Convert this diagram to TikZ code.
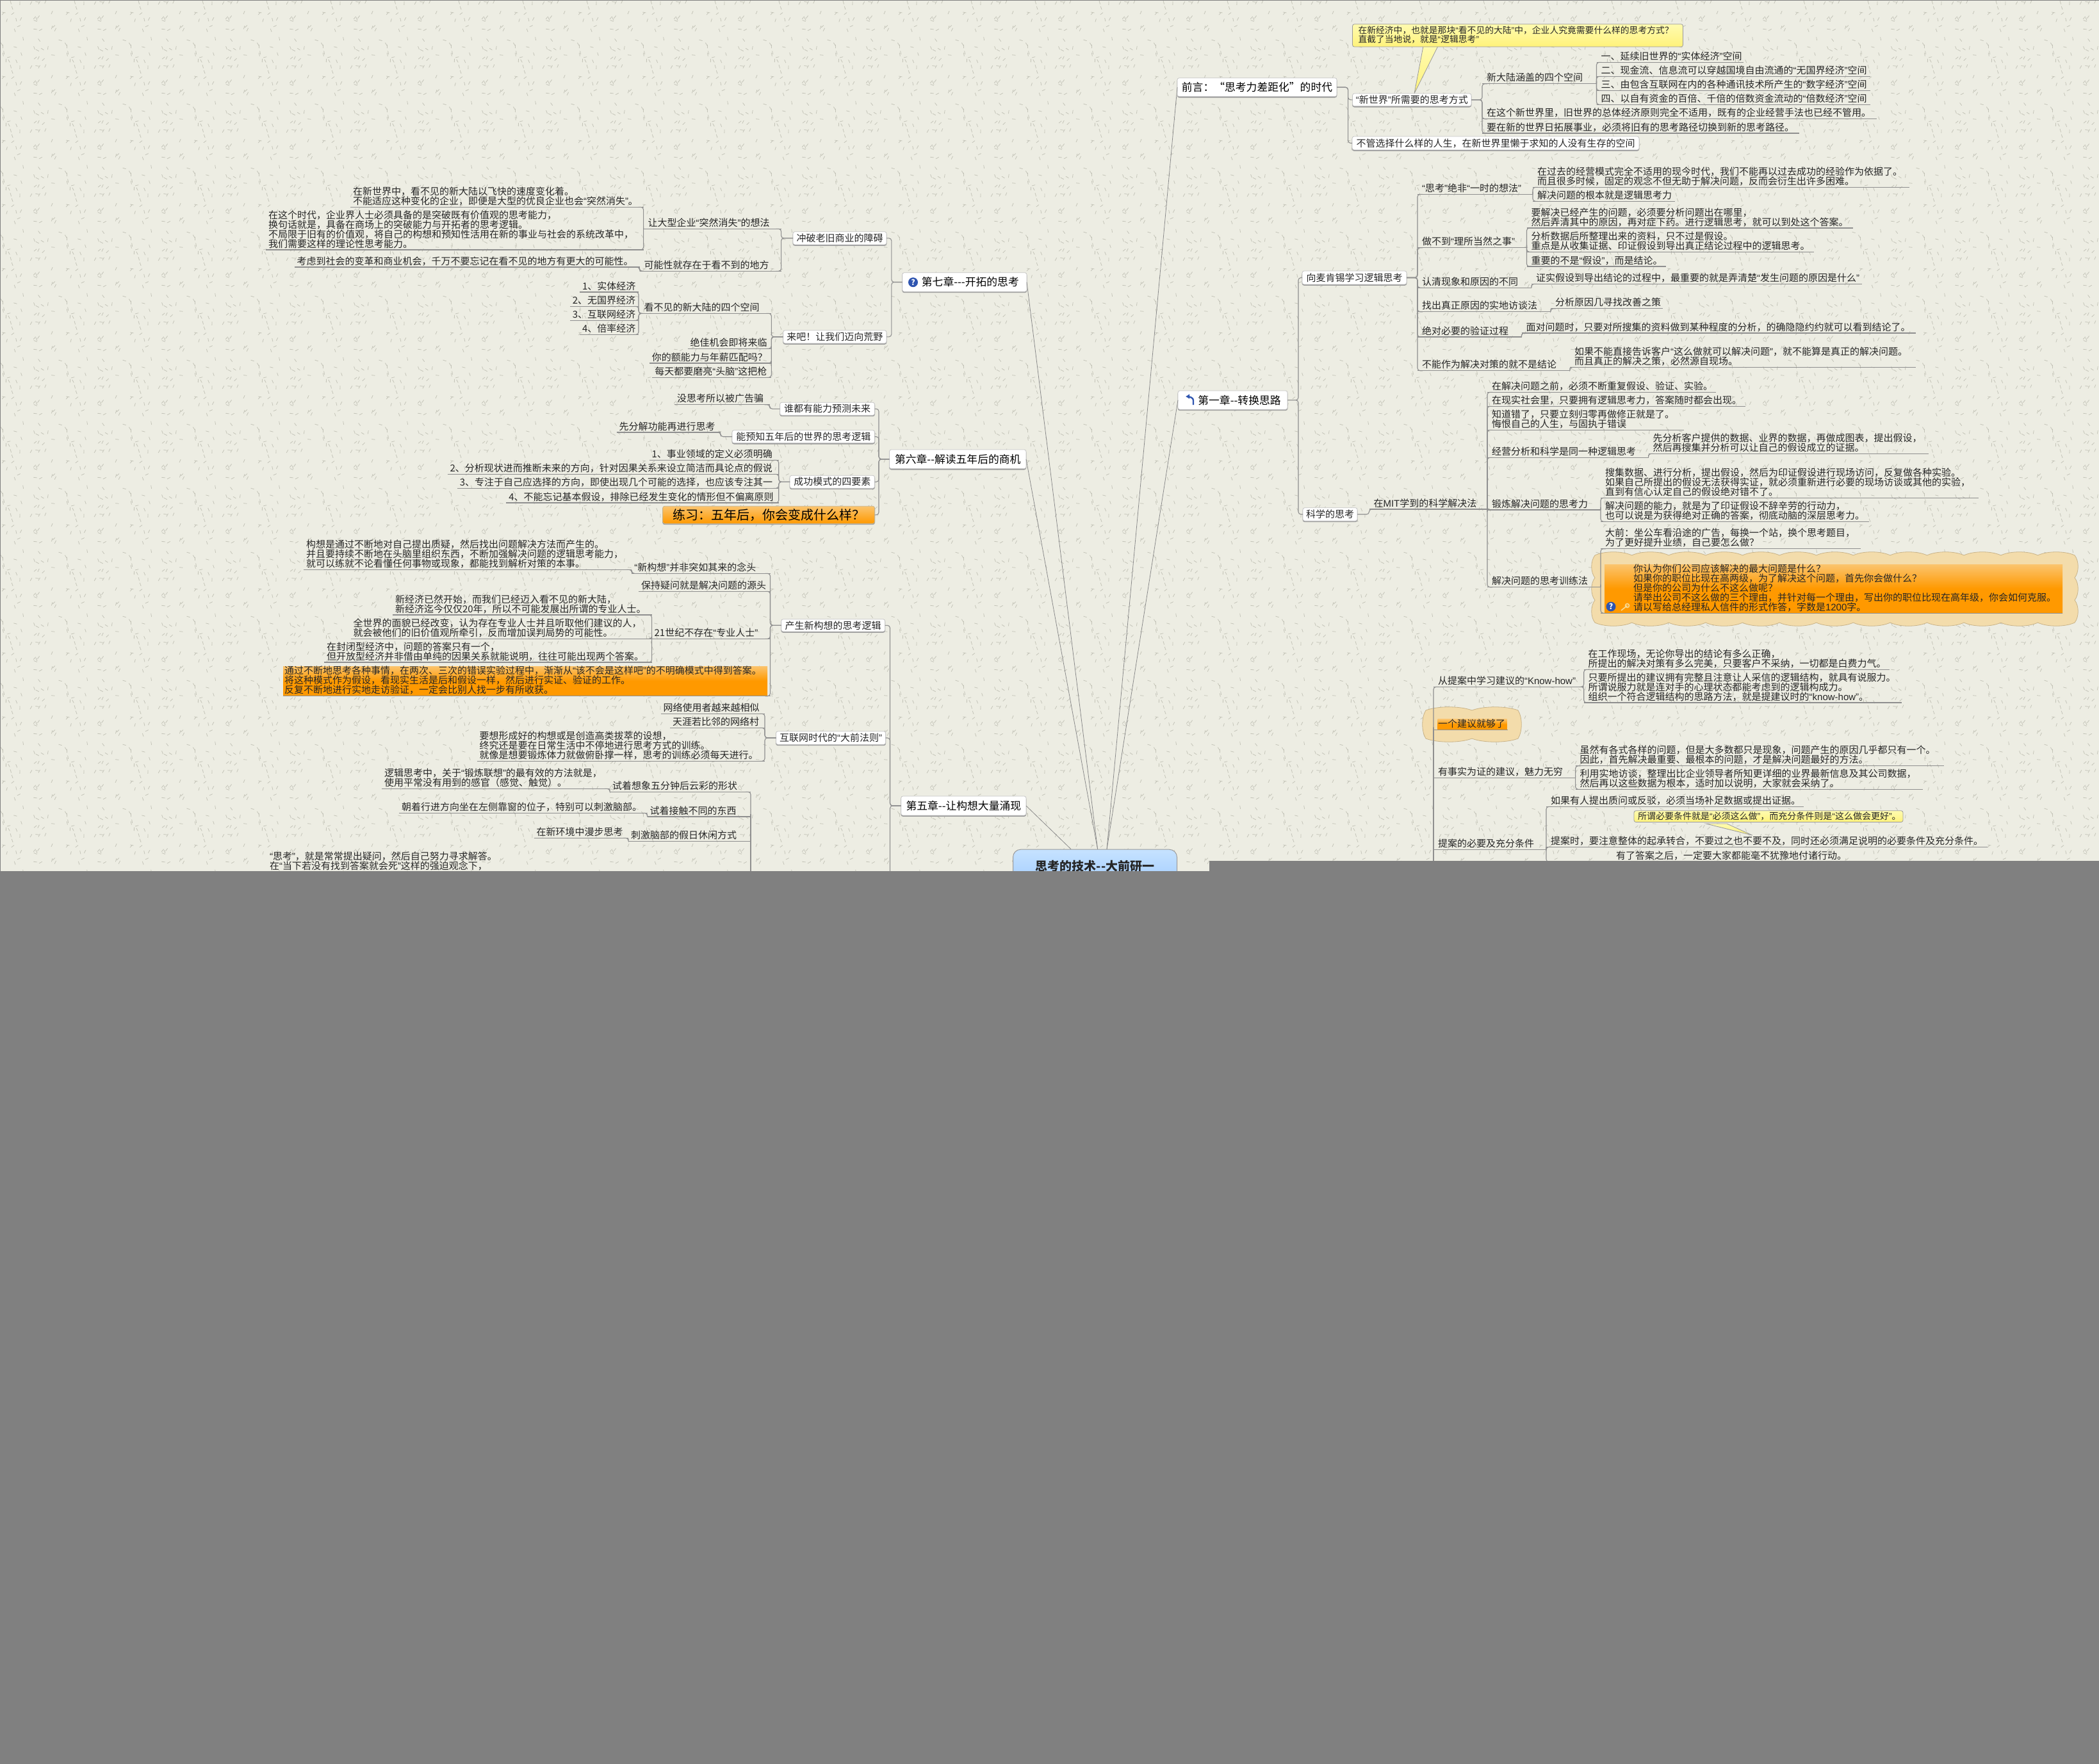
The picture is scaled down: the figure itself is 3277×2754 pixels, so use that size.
\documentclass[tikz,border=0pt]{standalone}
\usepackage{fontspec}
\setmainfont{Noto Sans CJK SC}
\newfontfamily\qfont{Liberation Sans}
\usetikzlibrary{patterns,arrows.meta,calc}
\lineskiplimit=-20pt
\normallineskiplimit=-20pt
\catcode`“=\active
\catcode`”=\active
\def“{{\qfont\char"201C }}
\def”{{\qfont\char"201D }}
\newcommand{\lat}[1]{\mbox{\qfont #1}}
\def\plaincolon{:}
\ExplSyntaxOn
\tl_new:N \l_fwpunct_tl
\NewDocumentCommand{\TX}{m}{
  \tl_set:Nn \l_fwpunct_tl {#1}
  \tl_replace_all:Nnn \l_fwpunct_tl {,} {\char"FF0C\relax}
  \exp_args:NNo \tl_replace_all:Nnn \l_fwpunct_tl {\plaincolon} {\char"FF1A\relax}
  \tl_replace_all:Nnn \l_fwpunct_tl {?} {\char"FF1F\relax}
  \tl_replace_all:Nnn \l_fwpunct_tl {!} {\char"FF01\relax}
  \tl_replace_all:Nnn \l_fwpunct_tl {(} {\char"FF08\relax}
  \tl_replace_all:Nnn \l_fwpunct_tl {)} {\char"FF09\relax}
  \tl_use:N \l_fwpunct_tl
}
\ExplSyntaxOff
\definecolor{bgc}{HTML}{EDEDE3}
\definecolor{tickc}{HTML}{C4C4B8}
\definecolor{linec}{HTML}{8F8F8F}
\definecolor{mainc}{HTML}{8A8A8A}
\definecolor{edgec}{HTML}{C4C4C4}
\definecolor{shadc}{HTML}{9A9A9A}
\definecolor{greyc}{HTML}{808080}
\definecolor{ortop}{HTML}{FBC46E}
\definecolor{orbot}{HTML}{FF9900}
\definecolor{yeltop}{HTML}{FFFBB0}
\definecolor{yelbot}{HTML}{FFF27A}
\definecolor{cloudf}{HTML}{F3DCAB}
\definecolor{cloude}{HTML}{C9B388}
\definecolor{iconb}{HTML}{2F55B0}
\definecolor{keyc}{HTML}{F7DA95}
\definecolor{ctop}{HTML}{C6E2FF}
\definecolor{cbot}{HTML}{A4CEFF}
\definecolor{inkc}{HTML}{262626}
\pgfdeclarepatternformonly{grain}{\pgfqpoint{0pt}{0pt}}{\pgfqpoint{100pt}{100pt}}{\pgfqpoint{100pt}{100pt}}{%
  \pgfsetlinewidth{0.8pt}\pgfsetroundcap
  \pgfmathsetseed{11}%
  \foreach \i in {1,...,46}{%
    \pgfmathsetmacro\xa{rnd*90+5}\pgfmathsetmacro\ya{rnd*90+5}%
    \pgfmathsetmacro\an{rnd*360}\pgfmathsetmacro\xb{\xa+5*cos(\an)}\pgfmathsetmacro\yb{\ya+5*sin(\an)}%
    \pgfpathmoveto{\pgfpoint{\xa pt}{\ya pt}}\pgfpathlineto{\pgfpoint{\xb pt}{\yb pt}}\pgfusepath{stroke}%
  }%
}
\newcommand{\mystrut}{\rule{0pt}{12pt}\rule[-3pt]{0pt}{3pt}}
\tikzset{
  txt/.style={font=\fontsize{15}{15}\selectfont,text=inkc},
  leaf/.style={txt,anchor=south west,inner ysep=1pt,align=left,outer sep=0pt,
    execute at begin node=\mystrut,execute at end node=\mystrut},
  ul/.style={draw=linec,line width=1.2pt},
  conn/.style={draw=linec,line width=1.1pt,rounded corners=4pt},
  mainline/.style={draw=mainc,line width=0.8pt},
  boxn/.style={txt,anchor=north west,inner sep=0pt,outer sep=0pt,align=center,draw=edgec,line width=0.8pt,fill=white,
    rounded corners=3pt,preaction={fill=shadc,draw=shadc,transform canvas={yshift=-1.4pt}}},
  chap/.style={boxn,font=\fontsize{16.8}{17}\selectfont,text=black},
  orbox/.style={boxn,top color=ortop,bottom color=orbot,draw=cloude,font=\fontsize{20}{20}\selectfont,text=black},
  orfill/.style={top color=ortop,bottom color=orbot,middle color=orbot},
  yel/.style={top color=yeltop,bottom color=yelbot,draw=shadc,line width=0.8pt},
  calloutn/.style={yel,rounded corners=3pt,anchor=north west,align=left,outer sep=0pt,text=inkc,
    execute at begin node=\mystrut,execute at end node=\mystrut},
  cloudn/.style={fill=cloudf,draw=cloude,line width=0.8pt},
  ctrbox/.style={anchor=north west,inner sep=0pt,align=center,top color=ctop,bottom color=cbot,draw=shadc,line width=1pt,
    rounded corners=12pt,font=\fontsize{19}{19}\selectfont\bfseries,text=black!85},
  qicon/.style={circle,fill=iconb,text=white,inner sep=0pt,minimum size=15pt,font=\fontsize{12}{12}\selectfont\bfseries},
}
% #1 style, #2 pad, #3 name, #4 x1, #5 x2, #6 y of the line, #7 text
\newcommand{\Leaf}[7][]{%
  \pgfmathsetlengthmacro{\tw}{#5-#4-2*#2}%
  \node[leaf,inner xsep=#2pt,text width=\tw,#1] (#3) at (#4,#6) {\TX{#7}};
  \draw[ul] (#3.south west) -- (#3.south east);
}
\newcommand{\RN}[5]{\Leaf{7}{#1}{#2}{#3}{#4}{#5}}
\newcommand{\LN}[5]{\Leaf{4}{#1}{#2}{#3}{#4}{#5}}
% #1 style, #2 name, #3 x1, #4 x2, #5 y1, #6 y2, #7 text
\newcommand{\BX}[7][boxn]{%
  \pgfmathsetlengthmacro{\tw}{#4-#3}\pgfmathsetlengthmacro{\tht}{#6-#5}%
  \node[#1,minimum width=\tw,minimum height=\tht] (#2) at (#3,#5) {\TX{#7}};
}
\newcommand{\CR}[2]{\draw[conn] (#1.south east) -| (#2.south west) -- ++(8,0);}
\newcommand{\CL}[2]{\draw[conn] (#1.south west) -| (#2.south east) -- ++(-8,0);}
\newcommand{\BR}[2]{\draw[conn] (#1.east) -| (#2.south west) -- ++(8,0);}
\newcommand{\BL}[2]{\draw[conn] (#1.west) -| (#2.south east) -- ++(-8,0);}
\newcommand{\BBR}[3]{\coordinate (busx) at (#3,0);\draw[conn] (#1.east) -- (busx |- #1.east) |- (#2.west);}
\newcommand{\BBL}[3]{\coordinate (busx) at (#3,0);\draw[conn] (#1.west) -- (busx |- #1.west) |- (#2.east);}
\newcommand{\Scallop}[7]{% x1 y1 x2 y2 nx ny h
  \pgfmathsetmacro\sww{(#3-#1)/#5}\pgfmathsetmacro\shh{(#4-#2)/#6}%
  \pgfmathsetmacro\swq{\sww/4}\pgfmathsetmacro\shq{\shh/4}%
  \draw[cloudn] (#1,#2)
    \foreach \kk in {1,...,#5}{ .. controls +(\swq,-#7) and +(-\swq,-#7) .. ++(\sww,0)}
    \foreach \kk in {1,...,#6}{ .. controls +(#7,\shq) and +(#7,-\shq) .. ++(0,\shh)}
    \foreach \kk in {1,...,#5}{ .. controls +(-\swq,#7) and +(\swq,#7) .. ++(-\sww,0)}
    \foreach \kk in {1,...,#6}{ .. controls +(-#7,-\shq) and +(-#7,\shq) .. ++(0,-\shh)}
    -- cycle;
}
\begin{document}
\begin{tikzpicture}[x=1pt,y=-1pt]
\useasboundingbox (0,0) rectangle (3277,2754);
\fill[bgc] (0,0) rectangle (3277,1400);
\fill[pattern=grain,pattern color=tickc] (0,0) rectangle (3277,1400);
\draw[greyc,line width=1pt] (0.5,1400) -- (0.5,0.5) -- (3277,0.5);

% clouds and orange fills
\Scallop{2490}{867}{3239}{972}{13}{3}{7}
\fill[orfill] (2505,881) rectangle (3220,957);
\Scallop{2226}{1109}{2370}{1153}{2}{1}{7}
\fill[orfill] (2244.6,1122.7) rectangle (2352.5,1139.3);
\fill[orfill] (442,1040) rectangle (1198,1086);

% callout pointers
\coordinate (tipa) at (2208,146);
\coordinate (tipb) at (2735.7,1304);
\coordinate (basea) at (2222,72);
\coordinate (baseb) at (2245,72);
\coordinate (basec) at (2663.6,1286);
\coordinate (based) at (2696,1286);
\draw[yel] (basea) -- (tipa) -- (baseb) -- cycle;
\draw[yel] (basec) -- (tipb) -- (based) -- cycle;

% ----- right, preface
\node[calloutn,text width=498pt,inner xsep=9pt,inner ysep=3.2pt,font=\fontsize{13.8}{14}\selectfont] (calla) at (2111.5,37.7)
  {\TX{在新经济中,也就是那块“看不见的大陆”中,企业人究竟需要什么样的思考方式?\\直截了当地说,就是“逻辑思考”}};
\BX[chap]{qy}{1838}{2087}{121.7}{150.7}{前言:\char"201C 思考力差距化\char"201D 的时代}
\BX{xsj}{2111.5}{2297}{146}{165.7}{“新世界”所需要的思考方式}
\BX{bg}{2111}{2559}{213}{234}{不管选择什么样的人生,在新世界里懒于求知的人没有生存的空间}
\RN{xdl}{2314}{2492.5}{130.7}{新大陆涵盖的四个空间}
\RN{zxs}{2314}{2930}{185.7}{在这个新世界里,旧世界的总体经济原则完全不适用,既有的企业经营手法也已经不管用。}
\RN{yzx}{2314}{2808.7}{208}{要在新的世界日拓展事业,必须将旧有的思考路径切换到新的思考路径。}
\RN{ka}{2492.5}{2722}{97.3}{一、延续旧世界的“实体经济”空间}
\RN{kb}{2492.5}{2919.6}{119.3}{二、现金流、信息流可以穿越国境自由流通的“无国界经济”空间}
\RN{kc}{2492.5}{2919.6}{141.3}{三、由包含互联网在内的各种通讯技术所产生的“数字经济”空间}
\RN{kd}{2492.5}{2919.6}{163.3}{四、以自有资金的百倍、千倍的倍数资金流动的“倍数经济”空间}
\BBR{qy}{xsj}{2104.6}
\BBR{qy}{bg}{2104.6}
\BR{xsj}{xdl}\BR{xsj}{zxs}\BR{xsj}{yzx}
\CR{xdl}{ka}\CR{xdl}{kb}\CR{xdl}{kc}\CR{xdl}{kd}

% ----- right, chapter one
\BX[chap]{dyz}{1839}{2010}{610}{639.3}{\hspace*{21pt}第一章-{}-转换思路}
\coordinate (arra) at (1863,632);
\coordinate (arrb) at (1851,619);
\draw[iconb,line width=2.4pt,-{Latex[length=6pt,width=8pt]},rounded corners=3pt] (arra) -- (1863,622) -- (1856,619) -- (arrb);
\BX{mkx}{2033}{2196}{423}{444}{向麦肯锡学习逻辑思考}
\BX{kxs}{2034}{2119}{792.7}{813.3}{科学的思考}
\BBR{dyz}{mkx}{2027}
\BBR{dyz}{kxs}{2027}
\RN{sk}{2213}{2393}{303.3}{“思考”绝非“一时的想法”}
\RN{ska}{2393}{2981}{292.3}{在过去的经营模式完全不适用的现今时代,我们不能再以过去成功的经验作为依据了。\\而且很多时候,固定的观念不但无助于解决问题,反而会衍生出许多困难。}
\RN{skb}{2393}{2615}{314.3}{解决问题的根本就是逻辑思考力}
\RN{zbd}{2213}{2383.5}{386.7}{做不到“理所当然之事”}
\RN{zba}{2383.5}{2893}{356}{要解决已经产生的问题,必须要分析问题出在哪里,\\然后弄清其中的原因,再对症下药。进行逻辑思考,就可以到处这个答案。}
\RN{zbb}{2383.5}{2831.6}{393.3}{分析数据后所整理出来的资料,只不过是假设。\\重点是从收集证据、印证假设到导出真正结论过程中的逻辑思考。}
\RN{zbc}{2383.5}{2601}{416}{重要的不是“假设”,而是结论。}
\RN{rq}{2213}{2391}{449.3}{认清现象和原因的不同}
\RN{rqa}{2391}{2907}{443.3}{证实假设到导出结论的过程中,最重要的就是弄清楚“发生问题的原因是什么”}
\RN{zc}{2213}{2421}{486.7}{找出真正原因的实地访谈法}
\RN{zca}{2421}{2596}{481.7}{分析原因几寻找改善之策}
\RN{jd}{2213}{2375.5}{526}{绝对必要的验证过程}
\RN{jda}{2375.5}{2990.7}{520}{面对问题时,只要对所搜集的资料做到某种程度的分析,的确隐隐约约就可以看到结论了。}
\RN{bn}{2213}{2451}{578.7}{不能作为解决对策的就不是结论}
\RN{bna}{2451}{2990.7}{573.3}{如果不能直接告诉客户“这么做就可以解决问题”,就不能算是真正的解决问题。\\而且真正的解决之策,必然源自现场。}
\BR{mkx}{sk}\BR{mkx}{zbd}\BR{mkx}{rq}\BR{mkx}{zc}\BR{mkx}{jd}\BR{mkx}{bn}
\CR{sk}{ska}\CR{sk}{skb}\CR{zbd}{zba}\CR{zbd}{zbb}\CR{zbd}{zbc}
\CR{rq}{rqa}\CR{zc}{zca}\CR{jd}{jda}\CR{bn}{bna}

\RN{mit}{2137.5}{2322}{795}{在\lat{MIT}学到的科学解决法}
\BR{kxs}{mit}
\RN{ma}{2322}{2679}{612.3}{在解决问题之前,必须不断重复假设、验证、实验。}
\RN{mb}{2322}{2724.6}{634.3}{在现实社会里,只要拥有逻辑思考力,答案随时都会出现。}
\RN{mc}{2322}{2629}{671.3}{知道错了,只要立刻归零再做修正就是了。\\悔恨自己的人生,与固执于错误}
\RN{md}{2322}{2573.6}{714.3}{经营分析和科学是同一种逻辑思考}
\RN{mda}{2573.6}{3010.6}{708.3}{先分析客户提供的数据、业界的数据,再做成图表,提出假设,\\然后再搜集并分析可以让自己的假设成立的证据。}
\RN{me}{2322}{2499}{796}{锻炼解决问题的思考力}
\RN{mea}{2499}{3089}{777.3}{搜集数据、进行分析,提出假设,然后为印证假设进行现场访问,反复做各种实验。\\如果自己所提出的假设无法获得实证,就必须重新进行必要的现场访谈或其他的实验,\\直到有信心认定自己的假设绝对错不了。}
\RN{meb}{2499}{2917.8}{814.3}{解决问题的能力,就是为了印证假设不辞辛劳的行动力,\\也可以说是为获得绝对正确的答案,彻底动脑的深层思考力。}
\RN{mf}{2322}{2499}{916.7}{解决问题的思考训练法}
\RN{mfa}{2499}{2905}{856.7}{大前:坐公车看沿途的广告,每换一个站,换个思考题目,\\为了更好提升业绩,自己要怎么做?}
\Leaf{51}{mfb}{2499}{3220}{957.3}{你认为你们公司应该解决的最大问题是什么?\\如果你的职位比现在高两级,为了解决这个问题,首先你会做什么?\\但是你的公司为什么不这么做呢?\\请举出公司不这么做的三个理由,并针对每一个理由,写出你的职位比现在高年级,你会如何克服。\\请以写给总经理私人信件的形式作答,字数是\lat{1200}字。}
\CR{mit}{ma}\CR{mit}{mb}\CR{mit}{mc}\CR{mit}{md}\CR{mit}{me}\CR{mit}{mf}
\CR{md}{mda}\CR{me}{mea}\CR{me}{meb}\CR{mf}{mfa}\CR{mf}{mfb}
\node[qicon] (qb) at (2515,947) {?};
\coordinate (keya) at (2540.5,945.5);
\coordinate (keyb) at (2531,953);
\draw[keyc,line width=1.6pt] (keya) circle (3pt) (keya) -- (keyb);

% ----- right, proposals
\coordinate (hidb) at (2238,1400);
\RN{ta}{2238}{2472.7}{1072.3}{从提案中学习建议的“\lat{Know-how}”}
\RN{taa}{2472.7}{2950}{1045.3}{在工作现场,无论你导出的结论有多么正确,\\所提出的解决对策有多么完美,只要客户不采纳,一切都是白费力气。}
\RN{tab}{2472.7}{2969}{1097}{只要所提出的建议拥有完整且注意让人采信的逻辑结构,就具有说服力。\\所谓说服力就是连对手的心理状态都能考虑到的逻辑构成力。\\组织一个符合逻辑结构的思路方法,就是提建议时的“\lat{know-how}”。}
\RN{tb}{2238}{2354}{1139.3}{一个建议就够了}
\RN{tc}{2238}{2459.6}{1214.3}{有事实为证的建议,魅力无穷}
\RN{tca}{2459.6}{3035}{1195.7}{虽然有各式各样的问题,但是大多数都只是现象,问题产生的原因几乎都只有一个。\\因此,首先解决最重要、最根本的问题,才是解决问题最好的方法。}
\RN{tcb}{2459.6}{3002}{1232.3}{利用实地访谈,整理出比企业领导者所知更详细的业界最新信息及其公司数据,\\然后再以这些数据为根本,适时加以说明,大家就会采纳了。}
\RN{td}{2238}{2414}{1326.7}{提案的必要及充分条件}
\RN{tda}{2414}{2816}{1259.3}{如果有人提出质问或反驳,必须当场补足数据或提出证据。}
\RN{tdb}{2414}{3103}{1322.3}{提案时,要注意整体的起承转合,不要过之也不要不及,同时还必须满足说明的必要条件及充分条件。}
\Leaf{109}{tdc}{2414}{3103}{1345.5}{有了答案之后,一定要大家都能毫不犹豫地付诸行动。}
\node[calloutn,text width=408pt,inner xsep=6pt,inner ysep=1.4pt,font=\fontsize{14}{14}\selectfont] (callb) at (2551,1265.7)
  {\TX{所谓必要条件就是“必须这么做”,而充分条件则是“这么做会更好”。}};
\draw[conn] (hidb) |- ($(ta.south west)+(8,0)$);
\CR{ta}{taa}\CR{ta}{tab}\CR{tc}{tca}\CR{tc}{tcb}
\CR{td}{tda}\CR{td}{tdb}\CR{td}{tdc}

% ----- left, chapter seven
\BX[chap]{dqz}{1408.7}{1603}{425.7}{455.3}{\hspace*{18pt}第七章-{}-{}-开拓的思考}
\node[qicon] (qa) at (1425.5,440.7) {?};
\BX{cp}{1238}{1384}{361.7}{382}{冲破老旧商业的障碍}
\BX{lb}{1222.7}{1384}{515.7}{536}{来吧!让我们迈向荒野}
\BBL{dqz}{cp}{1391.8}
\BBL{dqz}{lb}{1391.8}
\RN{rdx}{1004.6}{1219.6}{357.3}{让大型企业“突然消失”的想法}
\RN{knx}{998.5}{1219.6}{423.3}{可能性就存在于看不到的地方}
\LN{xsja}{547}{1004.6}{323.3}{在新世界中,看不见的新大陆以飞快的速度变化着。\\不能适应这种变化的企业,即便是大型的优良企业也会“突然消失”。}
\LN{zsd}{415}{1004.6}{390}{在这个时代,企业界人士必须具备的是突破既有价值观的思考能力,\\换句话就是,具备在商场上的突破能力与开拓者的思考逻辑。\\不局限于旧有的价值观,将自己的构想和预知性活用在新的事业与社会的系统改革中,\\我们需要这样的理论性思考能力。}
\LN{klz}{459.7}{998.5}{417}{考虑到社会的变革和商业机会,千万不要忘记在看不见的地方有更大的可能性。}
\BL{cp}{rdx}\BL{cp}{knx}
\CL{rdx}{xsja}\CL{rdx}{zsd}\CL{knx}{klz}
\RN{kbj}{998.5}{1204.3}{489.3}{看不见的新大陆的四个空间}
\LN{sa}{905}{997}{456}{1、实体经济}
\LN{sb}{889.8}{997}{478.3}{2、无国界经济}
\LN{sc}{889.8}{997}{500.3}{3、互联网经济}
\LN{sd}{905}{997}{522.3}{4、倍率经济}
\LN{jj}{1073.5}{1204.3}{544.3}{绝佳机会即将来临}
\LN{nd}{1013.8}{1204.3}{567}{你的额能力与年薪匹配吗?}
\LN{mt}{1018.4}{1204.3}{589.3}{每天都要磨亮“头脑”这把枪}
\BL{lb}{kbj}\BL{lb}{jj}\BL{lb}{nd}\BL{lb}{mt}
\CL{kbj}{sa}\CL{kbj}{sb}\CL{kbj}{sc}\CL{kbj}{sd}

% ----- left, chapter six
\BX[chap]{dlz}{1388.5}{1602}{702}{731.7}{第六章-{}-解读五年后的商机}
\BX{sd1}{1217.6}{1365.6}{628.3}{648.3}{谁都有能力预测未来}
\BX{ny}{1143}{1365.6}{671.7}{691.7}{能预知五年后的世界的思考逻辑}
\BX{cg}{1233}{1365.6}{742.3}{762.3}{成功模式的四要素}
\BX[orbox]{lx}{1034.6}{1365.6}{790.3}{817.3}{练习:五年后,你会变成什么样?}
\BBL{dlz}{sd1}{1372}\BBL{dlz}{ny}{1372}\BBL{dlz}{cg}{1372}\BBL{dlz}{lx}{1372}
\LN{mei}{1053}{1201.7}{631.7}{没思考所以被广告骗}
\LN{xf}{962.5}{1125}{675}{先分解功能再进行思考}
\LN{ca}{1013.5}{1215.7}{718.3}{1、事业领域的定义必须明确}
\LN{cb}{698.5}{1215.7}{740.3}{2、分析现状进而推断未来的方向,针对因果关系来设立简洁而具论点的假说}
\LN{cc}{713.8}{1215.7}{762.3}{3、专注于自己应选择的方向,即使出现几个可能的选择,也应该专注其一}
\LN{cd}{790.3}{1215.7}{785}{4、不能忘记基本假设,排除已经发生变化的情形但不偏离原则}
\BL{sd1}{mei}\BL{ny}{xf}\BL{cg}{ca}\BL{cg}{cb}\BL{cg}{cc}\BL{cg}{cd}

% ----- left, chapter five
\BX[chap]{dwz}{1406.7}{1602}{1243}{1273}{第五章-{}-让构想大量涌现}
\BX{cs}{1219.7}{1381.7}{966.7}{986}{产生新构想的思考逻辑}
\BX{hl}{1211.5}{1382.7}{1141.7}{1162.3}{互联网时代的“大前法则”}
\coordinate (hidd) at (1389.5,1400);
\coordinate (hida) at (1172,1400);
\BBL{dwz}{cs}{1389.5}
\BBL{dwz}{hl}{1389.5}
\draw[conn] (dwz.west) -- (hidd |- dwz.west) -- (hidd);
\LN{xg}{986.3}{1202.5}{895.3}{“新构想”并非突如其来的念头}
\LN{xga}{474}{986.3}{889.3}{构想是通过不断地对自己提出质疑,然后找出问题解决方法而产生的。\\并且要持续不断地在头脑里组织东西,不断加强解决问题的逻辑思考能力,\\就可以练就不论看懂任何事物或现象,都能找到解析对策的本事。}
\LN{bc}{997}{1202.5}{923.3}{保持疑问就是解决问题的源头}
\LN{ej}{1017.6}{1202.5}{997.3}{21世纪不存在“专业人士”}
\LN{eja}{613}{1017.6}{960}{新经济已然开始,而我们已经迈入看不见的新大陆,\\新经济迄今仅仅20年,所以不可能发展出所谓的专业人士。}
\LN{ejb}{547.6}{1017.6}{997.3}{全世界的面貌已经改变,认为存在专业人士并且听取他们建议的人,\\就会被他们的旧价值观所牵引,反而增加误判局势的可能性。}
\LN{ejc}{506}{1017.6}{1034}{在封闭型经济中,问题的答案只有一个,\\但开放型经济并非借由单纯的因果关系就能说明,往往可能出现两个答案。}
\Leaf{2}{tg}{442}{1202.5}{1086.7}{通过不断地思考各种事情,在两次、三次的错误实验过程中,渐渐从“该不会是这样吧”的不明确模式中得到答案。\\将这种模式作为假设,看现实生活是后和假设一样,然后进行实证、验证的工作。\\反复不断地进行实地走访验证,一定会比别人找一步有所收获。}
\BL{cs}{xg}\BL{cs}{bc}\BL{cs}{ej}\BL{cs}{tg}
\CL{xg}{xga}\CL{ej}{eja}\CL{ej}{ejb}\CL{ej}{ejc}
\LN{wa}{1031.6}{1194}{1114.3}{网络使用者越来越相似}
\LN{wb}{1046}{1194}{1136.3}{天涯若比邻的网络村}
\LN{wc}{744.5}{1194}{1188.3}{要想形成好的构想或是创造高类拔萃的设想,\\终究还是要在日常生活中不停地进行思考方式的训练。\\就像是想要锻炼体力就做俯卧撑一样,思考的训练必须每天进行。}
\BL{hl}{wa}\BL{hl}{wb}\BL{hl}{wc}
\LN{ya}{952}{1172}{1236.3}{试着想象五分钟后云彩的形状}
\LN{yaa}{596}{952}{1231.3}{逻辑思考中,关于“锻炼联想”的最有效的方法就是,\\使用平常没有用到的感官(感觉、触觉)。}
\LN{yb}{1010.5}{1172}{1275}{试着接触不同的东西}
\LN{yba}{623}{1010.5}{1269.3}{朝着行进方向坐在左侧靠窗的位子,特别可以刺激脑部。}
\LN{yc}{981}{1172}{1313.3}{刺激脑部的假日休闲方式}
\LN{yca}{833.5}{981}{1308.3}{在新环境中漫步思考}
\LN{sik}{417}{900}{1361.5}{“思考”,就是常常提出疑问,然后自己努力寻求解答。\\在“当下若没有找到答案就会死”这样的强迫观念下,}
\draw[conn] (hida) |- ($(ya.south east)+(-8,0)$);
\draw[conn] (hida) |- (yb.south east);
\draw[conn] (hida) |- (yc.south east);
\CL{ya}{yaa}\CL{yb}{yba}\CL{yc}{yca}
\draw[conn] (hidb) |- (tb.south west);
\draw[conn] (hidb) |- (tc.south west);
\draw[conn] (hidb) |- (td.south west);

% ----- centre
\BX[ctrbox]{ctr}{1581}{1837}{1325.7}{1378.3}{思考的技术-{}-大前研一}
\coordinate (ca1) at (1672,1325.7);
\coordinate (ca2) at (1713.6,1325.7);
\coordinate (ca3) at (1728,1325.7);
\draw[mainline] (dwz.east) -- (ca1);
\draw[mainline] (dlz.east) -- (ca2);
\draw[mainline] (dqz.east) -- (ca2);
\draw[mainline] (qy.west) -- (ca3);
\draw[mainline] (dyz.west) -- (ca3);

% grey page remainder
\fill[greyc] (0,1360) rectangle (3277,2754);
\fill[greyc] (1888,1344) rectangle (3277,1360);
\end{tikzpicture}
\end{document}
